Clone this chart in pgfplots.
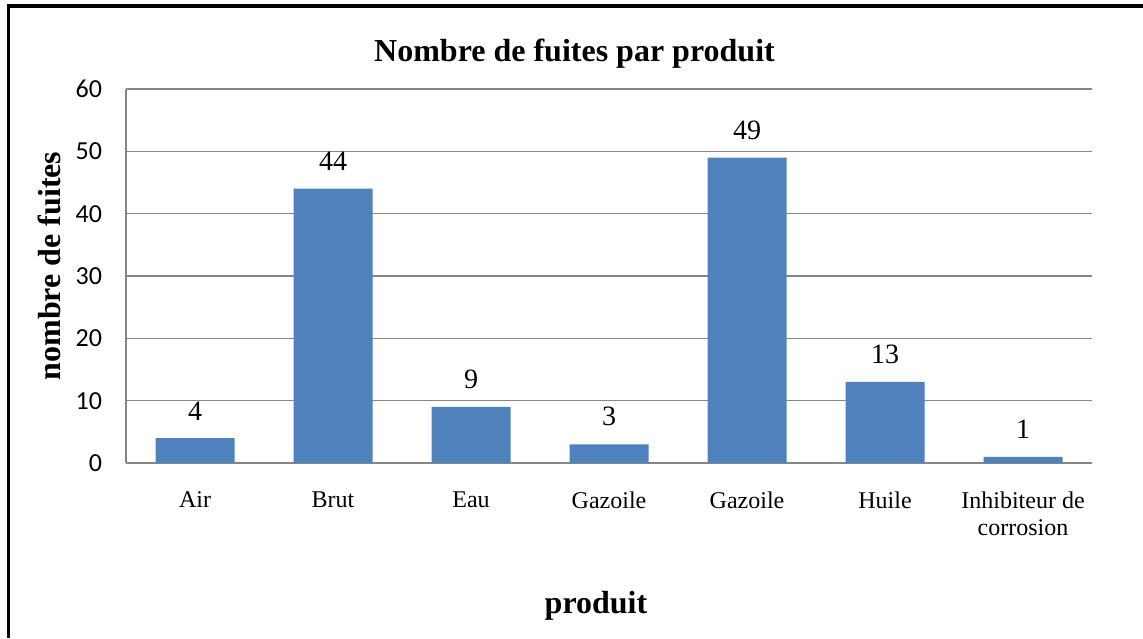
\documentclass[border=0pt]{standalone}
\usepackage{pgfplots}
\pgfplotsset{compat=1.18}
\usepackage{fontspec}
\setmainfont{Liberation Serif}
\newfontfamily\carlito{Carlito}

\definecolor{barblue}{HTML}{4F81BD}
\definecolor{gridgray}{HTML}{868686}

\begin{document}
\begin{tikzpicture}
% page frame (1px = 0.5pt)
\path[use as bounding box] (0,0) rectangle (571.5pt,319pt);
\draw[line width=1.6pt] (4.4pt,0) -- (4.4pt,316pt) -- (571.5pt,316pt);

\begin{axis}[
    at={(63pt,87.5pt)}, anchor=south west,
    scale only axis,
    width=483pt, height=187pt,
    xmin=-0.5, xmax=6.5,
    ymin=0, ymax=60,
    ytick={0,10,20,30,40,50,60},
    xtick=data,
    xticklabels={Air,Brut,Eau,Gazoile,Gazoile,Huile,{Inhibiteur de\\corrosion}},
    axis x line*=bottom,
    axis y line*=left,
    axis line style={gridgray, line width=0.7pt, -},
    ymajorgrids=true,
    grid style={gridgray, line width=0.6pt},
    major tick length=0pt,
    /pgf/number format/assume math mode=true,
    yticklabel style={font=\carlito\fontsize{13}{15}\selectfont, xshift=-8.5pt},
    xticklabel style={font=\fontsize{12}{13.5}\selectfont, align=center, anchor=north, yshift=-11pt},
    ybar,
    bar width=39.5pt,
    nodes near coords,
    nodes near coords style={font=\fontsize{14}{16}\selectfont, yshift=5.5pt},
]
\addplot[fill=barblue, draw=none] coordinates {
    (0,4) (1,44) (2,9) (3,3) (4,49) (5,13) (6,1)
};
\end{axis}

\node[font=\bfseries\fontsize{16}{18}\selectfont, anchor=base] at (287.25pt,288pt) {Nombre de fuites par produit};
\node[font=\bfseries\fontsize{16}{18}\selectfont, anchor=base, rotate=90] at (30pt,186pt) {nombre de fuites};
\node[font=\bfseries\fontsize{16}{18}\selectfont, anchor=base] at (298pt,12.5pt) {produit};
\end{tikzpicture}
\end{document}
